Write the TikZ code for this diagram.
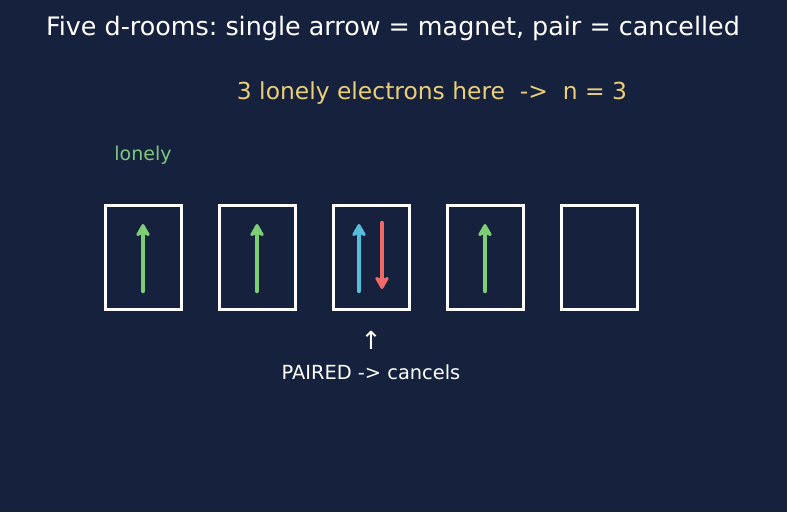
\documentclass[tikz,border=0pt]{standalone}
\usepackage{fontspec}
\setmainfont{DejaVu Sans}
\usetikzlibrary{arrows.meta}
\definecolor{bg}{RGB}{22,33,62}
\definecolor{grn}{RGB}{126,206,118}
\definecolor{blu}{RGB}{86,190,220}
\definecolor{rd}{RGB}{240,104,104}
\definecolor{ylw}{RGB}{234,206,120}
\definecolor{lgrn}{RGB}{126,200,126}
\tikzset{
  room/.style={draw=white, line width=3pt, minimum width=76pt, minimum height=104pt, inner sep=0pt},
  spin/.style={line width=4.5pt, line cap=round, -{Stealth[length=15pt,width=17pt,round,inset=4pt]}},
}
\frenchspacing
\begin{document}
\begin{tikzpicture}[x=1pt,y=-1pt]
\fill[bg] (0,0) rectangle (787,512);
\useasboundingbox (0,0) rectangle (787,512);
\node[text=white, font=\fontsize{25.4}{28}\selectfont] (title) at (393,28) {Five d-rooms: single arrow = magnet, pair = cancelled};
\node[text=ylw, font=\fontsize{23.4}{26}\selectfont] (sub) at (432,93) {3 lonely electrons here\ \ ->\ \ n = 3};
\node[text=lgrn, font=\fontsize{19}{22}\selectfont] (lonely) at (143,155) {lonely};
\node[room] (r1) at (143,257) {};
\node[room] (r2) at (257,257) {};
\node[room] (r3) at (371,257) {};
\node[room] (r4) at (485,257) {};
\node[room] (r5) at (599,257) {};
\coordinate (a1s) at (143,291); \coordinate (a1e) at (143,224);
\coordinate (a2s) at (257,291); \coordinate (a2e) at (257,224);
\coordinate (a3s) at (359,291); \coordinate (a3e) at (359,224);
\coordinate (b3s) at (382,223); \coordinate (b3e) at (382,289);
\coordinate (a4s) at (485,291); \coordinate (a4e) at (485,224);
\draw[spin, grn] (a1s) -- (a1e);
\draw[spin, grn] (a2s) -- (a2e);
\draw[spin, blu] (a3s) -- (a3e);
\draw[spin, rd] (b3s) -- (b3e);
\draw[spin, grn] (a4s) -- (a4e);
\node[text=white, font=\fontsize{25}{28}\selectfont] (up) at (371,340) {↑};
\node[text=white, font=\fontsize{19.4}{22}\selectfont] (paired) at (371,372) {PAIRED -> cancels};
\end{tikzpicture}
\end{document}
